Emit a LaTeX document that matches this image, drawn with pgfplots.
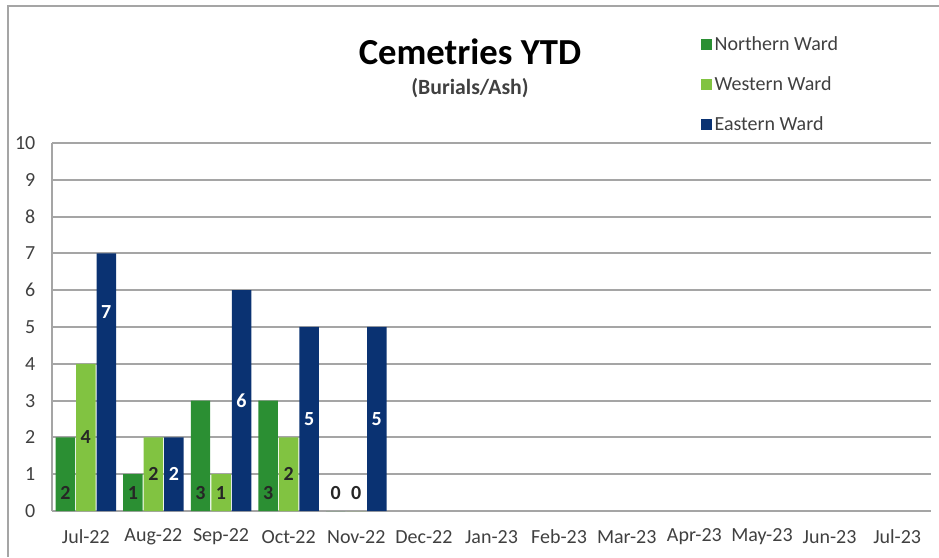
\documentclass[border=0pt]{standalone}
\usepackage{pgfplots}
\pgfplotsset{compat=1.18}
\usepackage{fontspec}
\setmainfont{Carlito}
\definecolor{north}{RGB}{43,143,51}
\definecolor{west}{RGB}{129,195,65}
\definecolor{east}{RGB}{10,50,114}
\definecolor{gridc}{RGB}{165,165,165}
\definecolor{txt}{RGB}{64,64,64}
\begin{document}
\begin{tikzpicture}
\path[use as bounding box] (-39pt,-34.5pt) rectangle (665.25pt,383.25pt);
\draw[gridc, line width=1.2pt] (-33pt,-34.5pt) -- (-33pt,378.75pt) -- (665.25pt,378.75pt);
\begin{axis}[
  at={(0,0)}, anchor=south west,
  scale only axis, width=659.25pt, height=276pt,
  xmin=-0.5, xmax=12.5, ymin=0, ymax=10,
  xtick={0,...,12},
  xticklabels={Jul-22,Aug-22,Sep-22,Oct-22,Nov-22,Dec-22,Jan-23,Feb-23,Mar-23,Apr-23,May-23,Jun-23,Jul-23},
  ytick={0,...,10},
  /pgf/number format/assume math mode=true,
  ymajorgrids, grid style={gridc, line width=1.5pt},
  axis lines*=left,
  x axis line style={draw=none},
  y axis line style={gridc, line width=1.5pt, -},
  major tick length=0pt,
  tick style={draw=none},
  tick label style={font=\fontsize{15}{15}\selectfont, text=txt},
  yticklabel style={anchor=east, xshift=-9pt},
  xticklabel style={anchor=center, yshift=-19.5pt},
  legend style={at={(axis description cs:0.733,1.305)}, anchor=north west, draw=none, fill=none,
    font=\fontsize{15}{15}\selectfont, text=txt, row sep=14pt, legend cell align=left,
    /tikz/every even column/.append style={column sep=0pt}},
  clip=false,
]
\addplot[ybar, bar width=14.6pt, bar shift=-15.4pt, fill=north, draw=none,
  legend image code/.code={\fill[north] (0pt,-4.5pt) rectangle (8.5pt,4pt);}]
  coordinates {(0,2) (1,1) (2,3) (3,3) (4,0)};
\addlegendentry{Northern Ward}
\addplot[ybar, bar width=14.6pt, bar shift=0pt, fill=west, draw=none,
  legend image code/.code={\fill[west] (0pt,-4.5pt) rectangle (8.5pt,4pt);}]
  coordinates {(0,4) (1,2) (2,1) (3,2) (4,0)};
\addlegendentry{Western Ward}
\addplot[ybar, bar width=14.6pt, bar shift=15.4pt, fill=east, draw=none,
  legend image code/.code={\fill[east] (0pt,-4.5pt) rectangle (8.5pt,4pt);}]
  coordinates {(0,7) (1,2) (2,6) (3,5) (4,5)};
\addlegendentry{Eastern Ward}
% data labels
\addplot[only marks, mark=*, mark size=0pt, mark options={draw=none,fill=none}, forget plot,
  nodes near coords, point meta=explicit symbolic,
  every node near coord/.append style={anchor=center, font=\bfseries\fontsize{15}{15}\selectfont, text=black!85}]
  coordinates {(-0.303,0.5) [2] (0.697,0.5) [1] (1.697,0.5) [3] (2.697,0.5) [3] (3.697,0.5) [0]
               (0,2) [4] (1,1) [2] (2,0.5) [1] (3,1) [2] (4,0.5) [0]};
\addplot[only marks, mark=*, mark size=0pt, mark options={draw=none,fill=none}, forget plot,
  nodes near coords, point meta=explicit symbolic,
  every node near coord/.append style={anchor=center, font=\bfseries\fontsize{15}{15}\selectfont, text=white}]
  coordinates {(0.303,5.4) [7] (1.303,1) [2] (2.303,3) [6] (3.303,2.5) [5] (4.303,2.5) [5]};
\end{axis}
\node[font=\bfseries\fontsize{27.5}{27.5}\selectfont] at (313.5pt,344.25pt) {Cemetries YTD};
\node[font=\bfseries\fontsize{16.3}{16.3}\selectfont, text=txt] at (313.5pt,317.25pt) {(Burials/Ash)};
\end{tikzpicture}
\end{document}
